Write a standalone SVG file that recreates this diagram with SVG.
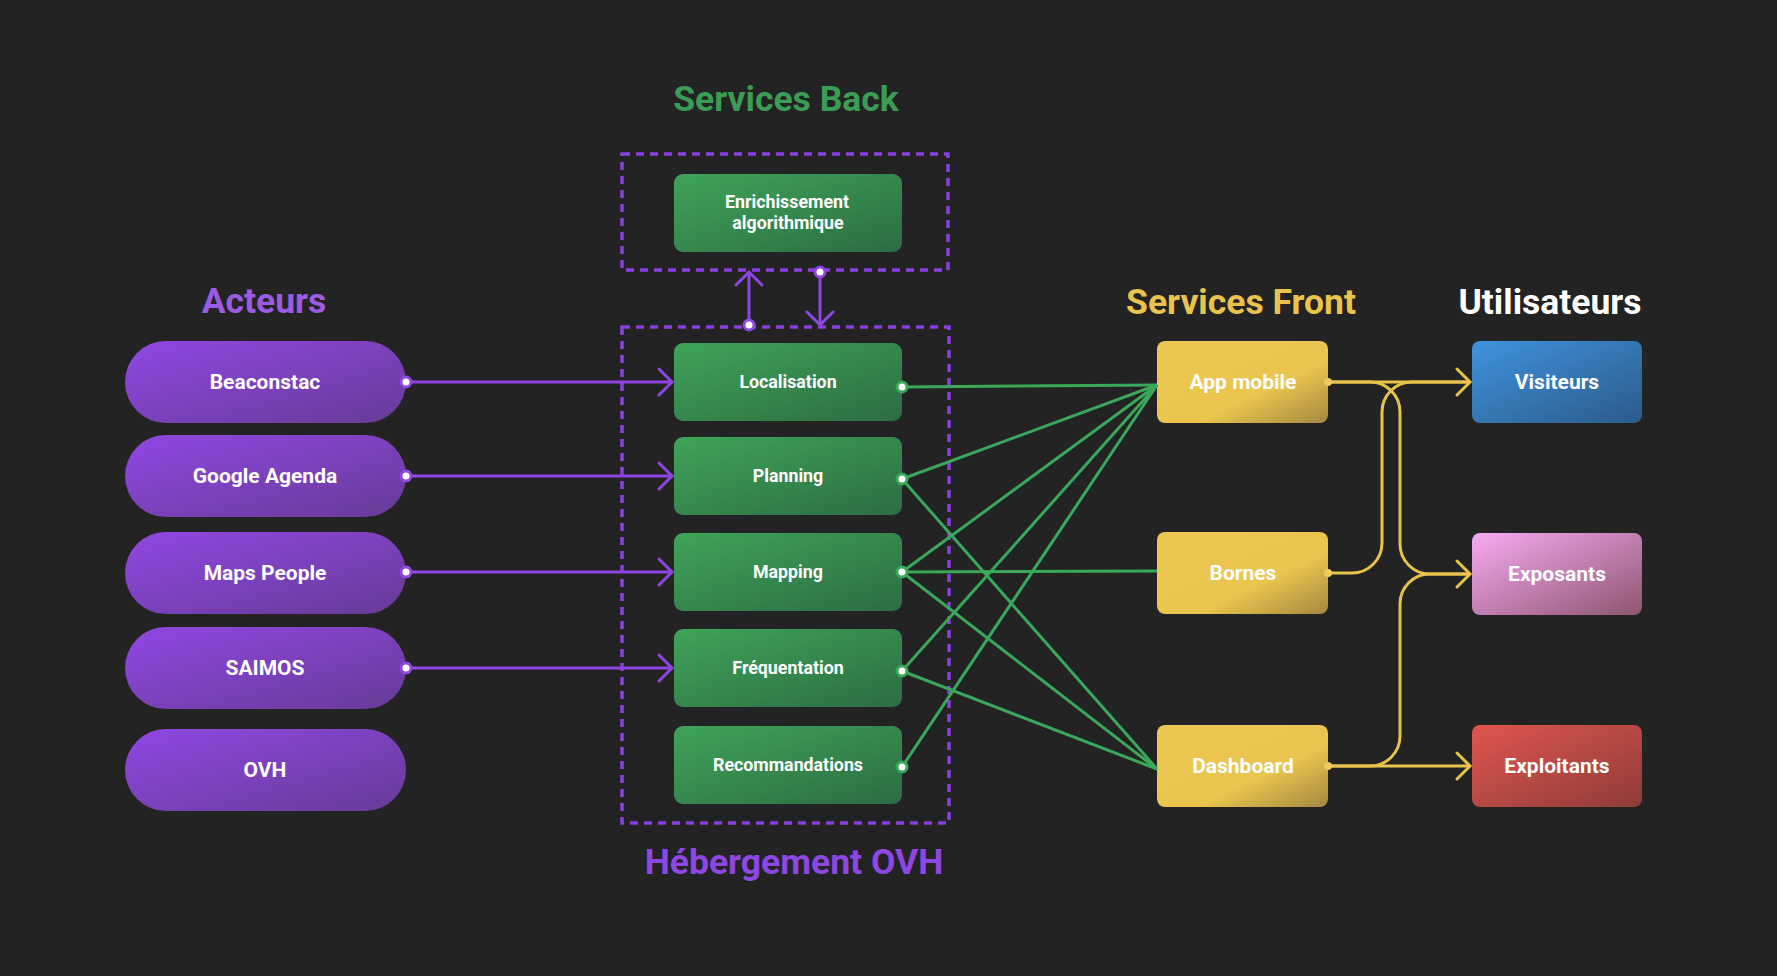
<svg xmlns="http://www.w3.org/2000/svg" width="1777" height="976" viewBox="0 0 1777 976">
<defs>
<style>
text{font-family:Roboto,"Liberation Sans",sans-serif;font-weight:700;text-anchor:middle}
.title{font-size:35.5px}
.pl{font-size:21px;fill:#fff}
.gl{font-size:17.8px;fill:#fff}
.yl{font-size:21px;fill:#fff}
.dash{fill:none;stroke:#8a3fe0;stroke-width:3.5;stroke-dasharray:8 6}
.pc{fill:none;stroke:#8e47e3;stroke-width:3}
.gc{fill:none;stroke:#3aa75a;stroke-width:3}
.yc{fill:none;stroke:#e8c34c;stroke-width:3}
.pd{fill:#fff;stroke:#8e47e3;stroke-width:3}
.gd{fill:#fff;stroke:#3aa75a;stroke-width:3}
.yd{fill:#f0cd5a}
</style>
<linearGradient id="gp" x1="0" y1="0" x2="1" y2="1"><stop offset="0" stop-color="#9147e4"/><stop offset="1" stop-color="#663b96"/></linearGradient>
<linearGradient id="gg" x1="0" y1="0" x2="1" y2="1"><stop offset="0" stop-color="#3ea459"/><stop offset="1" stop-color="#2d6c43"/></linearGradient>
<linearGradient id="gy" x1="0" y1="0" x2="1" y2="1"><stop offset="0" stop-color="#ecc752"/><stop offset="0.62" stop-color="#e9c44e"/><stop offset="1" stop-color="#a68840"/></linearGradient>
<linearGradient id="gb" x1="0" y1="0" x2="1" y2="1"><stop offset="0" stop-color="#3f93dd"/><stop offset="1" stop-color="#2c5a8a"/></linearGradient>
<linearGradient id="gk" x1="0" y1="0" x2="1" y2="1"><stop offset="0" stop-color="#f6abf1"/><stop offset="1" stop-color="#8e5570"/></linearGradient>
<linearGradient id="gr" x1="0" y1="0" x2="1" y2="1"><stop offset="0" stop-color="#e0564e"/><stop offset="1" stop-color="#8e3b39"/></linearGradient>
<marker id="ap" markerUnits="userSpaceOnUse" markerWidth="18" markerHeight="30" refX="15" refY="15" orient="auto"><path d="M2 2 L15 15 L2 28" fill="none" stroke="#8e47e3" stroke-width="3" stroke-linecap="round"/></marker>
<marker id="ay" markerUnits="userSpaceOnUse" markerWidth="18" markerHeight="30" refX="15" refY="15" orient="auto"><path d="M2 2 L15 15 L2 28" fill="none" stroke="#e8c34c" stroke-width="3" stroke-linecap="round"/></marker>
</defs>
<rect width="1777" height="976" fill="#232323"/>

<g id="titles">
<text class="title" x="786" y="111" fill="#3b9d55">Services Back</text>
<text class="title" x="264" y="313" fill="#9b5ce2">Acteurs</text>
<text class="title" x="1241" y="314" fill="#e9c34c">Services Front</text>
<text class="title" x="1550" y="314" fill="#ffffff">Utilisateurs</text>
<text class="title" x="794" y="874" fill="#8e47e3">Hébergement OVH</text>
</g>

<g id="groups">
<rect id="box-back" class="dash" x="622" y="154" width="326" height="116"/>
<rect id="box-ovh" class="dash" x="622" y="327" width="327" height="496"/>
</g>

<g id="beaconstac"><rect x="125" y="341" width="281" height="82" rx="41" fill="url(#gp)"/><text class="pl" x="265" y="389">Beaconstac</text></g>
<g id="google-agenda"><rect x="125" y="435" width="281" height="82" rx="41" fill="url(#gp)"/><text class="pl" x="265" y="483">Google Agenda</text></g>
<g id="maps-people"><rect x="125" y="532" width="281" height="82" rx="41" fill="url(#gp)"/><text class="pl" x="265" y="580">Maps People</text></g>
<g id="saimos"><rect x="125" y="627" width="281" height="82" rx="41" fill="url(#gp)"/><text class="pl" x="265" y="675">SAIMOS</text></g>
<g id="ovh"><rect x="125" y="729" width="281" height="82" rx="41" fill="url(#gp)"/><text class="pl" x="265" y="777">OVH</text></g>

<g id="enrichissement"><rect x="674" y="174" width="228" height="78" rx="9" fill="url(#gg)"/><text class="gl" x="787" y="208">Enrichissement</text><text class="gl" x="788" y="229">algorithmique</text></g>
<g id="localisation"><rect x="674" y="343" width="228" height="78" rx="9" fill="url(#gg)"/><text class="gl" x="788" y="388">Localisation</text></g>
<g id="planning"><rect x="674" y="437" width="228" height="78" rx="9" fill="url(#gg)"/><text class="gl" x="788" y="482">Planning</text></g>
<g id="mapping"><rect x="674" y="533" width="228" height="78" rx="9" fill="url(#gg)"/><text class="gl" x="788" y="578">Mapping</text></g>
<g id="frequentation"><rect x="674" y="629" width="228" height="78" rx="9" fill="url(#gg)"/><text class="gl" x="788" y="674">Fréquentation</text></g>
<g id="recommandations"><rect x="674" y="726" width="228" height="78" rx="9" fill="url(#gg)"/><text class="gl" x="788" y="771">Recommandations</text></g>

<g id="app-mobile"><rect x="1157" y="341" width="171" height="82" rx="8" fill="url(#gy)"/><text class="yl" x="1243" y="389">App mobile</text></g>
<g id="bornes"><rect x="1157" y="532" width="171" height="82" rx="8" fill="url(#gy)"/><text class="yl" x="1243" y="580">Bornes</text></g>
<g id="dashboard"><rect x="1157" y="725" width="171" height="82" rx="8" fill="url(#gy)"/><text class="yl" x="1243" y="773">Dashboard</text></g>

<g id="visiteurs"><rect x="1472" y="341" width="170" height="82" rx="8" fill="url(#gb)"/><text class="yl" x="1557" y="389">Visiteurs</text></g>
<g id="exposants"><rect x="1472" y="533" width="170" height="82" rx="8" fill="url(#gk)"/><text class="yl" x="1557" y="581">Exposants</text></g>
<g id="exploitants"><rect x="1472" y="725" width="170" height="82" rx="8" fill="url(#gr)"/><text class="yl" x="1557" y="773">Exploitants</text></g>

<g id="connectors">
<path class="pc" d="M406 382 H672" marker-end="url(#ap)"/>
<path class="pc" d="M406 476 H672" marker-end="url(#ap)"/>
<path class="pc" d="M406 572 H672" marker-end="url(#ap)"/>
<path class="pc" d="M406 668 H672" marker-end="url(#ap)"/>
<path class="pc" d="M749 325 V272" marker-end="url(#ap)"/>
<path class="pc" d="M820 272 V325" marker-end="url(#ap)"/>

<path class="gc" d="M902 387 L1157 385"/>
<path class="gc" d="M902 479 L1157 385"/>
<path class="gc" d="M902 479 L1157 769"/>
<path class="gc" d="M902 572 L1157 385"/>
<path class="gc" d="M902 572 L1157 571"/>
<path class="gc" d="M902 572 L1157 769"/>
<path class="gc" d="M902 671 L1157 385"/>
<path class="gc" d="M902 671 L1157 769"/>
<path class="gc" d="M902 767 L1157 385"/>

<path class="yc" d="M1328 382 H1470" marker-end="url(#ay)"/>
<path class="yc" d="M1328 382 H1370 A30 30 0 0 1 1400 412 V544 A30 30 0 0 0 1430 574 H1470" marker-end="url(#ay)"/>
<path class="yc" d="M1328 573 H1352 A30 30 0 0 0 1382 543 V412 A30 30 0 0 1 1412 382 H1470"/>
<path class="yc" d="M1328 766 H1470" marker-end="url(#ay)"/>
<path class="yc" d="M1328 766 H1370 A30 30 0 0 0 1400 736 V604 A30 30 0 0 1 1430 574 H1470"/>

<circle class="pd" cx="406" cy="382" r="5"/>
<circle class="pd" cx="406" cy="476" r="5"/>
<circle class="pd" cx="406" cy="572" r="5"/>
<circle class="pd" cx="406" cy="668" r="5"/>
<circle class="pd" cx="749" cy="325" r="5"/>
<circle class="pd" cx="820" cy="272" r="5"/>
<circle class="gd" cx="902" cy="387" r="5"/>
<circle class="gd" cx="902" cy="479" r="5"/>
<circle class="gd" cx="902" cy="572" r="5"/>
<circle class="gd" cx="902" cy="671" r="5"/>
<circle class="gd" cx="902" cy="767" r="5"/>
<circle class="yd" cx="1328" cy="382" r="4"/>
<circle class="yd" cx="1328" cy="573" r="4"/>
<circle class="yd" cx="1328" cy="766" r="4"/>
</g>
</svg>
